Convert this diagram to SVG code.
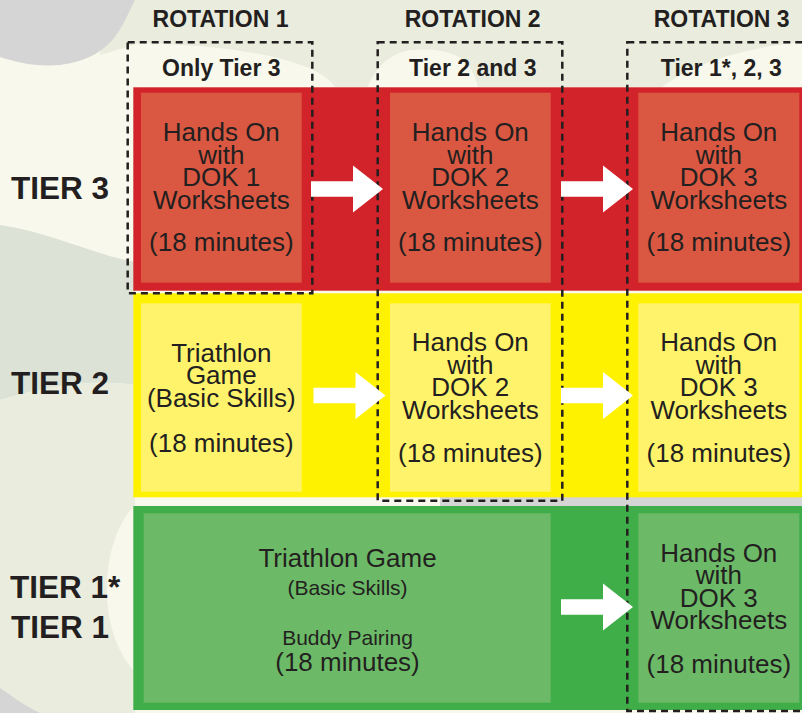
<svg xmlns="http://www.w3.org/2000/svg" xmlns:xlink="http://www.w3.org/1999/xlink" width="802" height="713" viewBox="0 0 802 713">
<defs>
<style>
.t{font-family:"Liberation Sans",Arial,sans-serif;fill:#231f20;text-anchor:middle}
.b{font-weight:bold}
.hd{font-size:23px;font-weight:bold}
.tier{font-family:"Liberation Sans",Arial,sans-serif;fill:#231f20;font-size:31.5px;font-weight:bold}
.bx{font-size:26px}
.sm{font-size:21px}
.dash{fill:none;stroke:#231f20;stroke-width:2.5;stroke-dasharray:7 5}
.arr{fill:#ffffff}
</style>
<path id="arrow" d="M0,-7.8 H42 V-23.5 L72,0 L42,23.5 V7.8 H0 Z"/>
</defs>

<!-- background -->
<g id="background">
<rect x="0" y="0" width="802" height="713" fill="#f9f8ec"/>
<path d="M110,0 H802 V42 C745,48 695,62 662,87 H478 C472,62 458,46 410,50 C388,54 374,70 368,87 H335 C318,62 250,46 140,43 L100,55 Z" fill="#eaecde"/>
<path d="M0,225 C50,232 95,255 135,262 V385 C100,380 60,382 0,400 Z" fill="#dce3d6"/>
<path d="M0,400 C60,382 100,380 135,385 V505 C100,540 95,630 135,672 V713 H0 Z" fill="#eaecde"/>
<path d="M0,0 H135 C120,30 112,58 60,65 C35,67 15,62 0,57 Z" fill="#d5d5d5"/>
<path d="M0,688 C15,698 25,706 40,713 H0 Z" fill="#d5d5d5"/>
<rect x="440" y="497" width="362" height="9" fill="#d5d5d5"/>
</g>

<!-- tier labels -->
<g id="labels">
<text class="t hd" x="220.5" y="27">ROTATION 1</text>
<text class="t hd" x="472.7" y="27">ROTATION 2</text>
<text class="t hd" x="721.7" y="27">ROTATION 3</text>
<text class="t hd" x="221.3" y="76">Only Tier 3</text>
<text class="t hd" x="472.8" y="76">Tier 2 and 3</text>
<text class="t hd" x="721.3" y="76">Tier 1*, 2, 3</text>
<text class="tier" x="11" y="199">TIER 3</text>
<text class="tier" x="11" y="394">TIER 2</text>
<text class="tier" x="10" y="597.7">TIER 1*</text>
<text class="tier" x="11" y="637.7">TIER 1</text>
</g>

<!-- bands -->
<g id="band-tier3"><rect x="133.3" y="87.3" width="668.7" height="203.4" fill="#d2232a"/></g>
<g id="band-tier2"><rect x="133.3" y="293.3" width="668.7" height="204" fill="#fff200"/></g>
<g id="band-tier1"><rect x="133.3" y="506" width="668.7" height="204" fill="#3fae49"/></g>

<!-- tier 3 row -->
<g id="t3-r1">
<rect x="141" y="92.7" width="160.7" height="190" fill="#da5841"/>
<text class="t bx" x="221.3"><tspan x="221.3" y="141">Hands On</tspan><tspan x="221.3" y="163.5">with</tspan><tspan x="221.3" y="186">DOK 1</tspan><tspan x="221.3" y="208.5">Worksheets</tspan><tspan x="221.3" y="251">(18 minutes)</tspan></text>
</g>
<g id="t3-r2">
<rect x="390" y="92.7" width="160.7" height="190" fill="#da5841"/>
<text class="t bx" x="470.3"><tspan x="470.3" y="141">Hands On</tspan><tspan x="470.3" y="163.5">with</tspan><tspan x="470.3" y="186">DOK 2</tspan><tspan x="470.3" y="208.5">Worksheets</tspan><tspan x="470.3" y="251">(18 minutes)</tspan></text>
</g>
<g id="t3-r3">
<rect x="638.3" y="92.7" width="161" height="190" fill="#da5841"/>
<text class="t bx" x="718.8"><tspan x="718.8" y="141">Hands On</tspan><tspan x="718.8" y="163.5">with</tspan><tspan x="718.8" y="186">DOK 3</tspan><tspan x="718.8" y="208.5">Worksheets</tspan><tspan x="718.8" y="251">(18 minutes)</tspan></text>
</g>

<!-- tier 2 row -->
<g id="t2-r1">
<rect x="141" y="303.3" width="160.7" height="188.4" fill="#fff36b"/>
<text class="t bx" x="221.3"><tspan x="221.3" y="361.5">Triathlon</tspan><tspan x="221.3" y="384">Game</tspan><tspan x="221.3" y="406.5">(Basic Skills)</tspan><tspan x="221.3" y="451.5">(18 minutes)</tspan></text>
</g>
<g id="t2-r2">
<rect x="390" y="303.3" width="160.7" height="188.4" fill="#fff36b"/>
<text class="t bx" x="470.3"><tspan x="470.3" y="351">Hands On</tspan><tspan x="470.3" y="373.5">with</tspan><tspan x="470.3" y="396">DOK 2</tspan><tspan x="470.3" y="418.5">Worksheets</tspan><tspan x="470.3" y="462">(18 minutes)</tspan></text>
</g>
<g id="t2-r3">
<rect x="638.3" y="303.3" width="161" height="188.4" fill="#fff36b"/>
<text class="t bx" x="718.8"><tspan x="718.8" y="351">Hands On</tspan><tspan x="718.8" y="373.5">with</tspan><tspan x="718.8" y="396">DOK 3</tspan><tspan x="718.8" y="418.5">Worksheets</tspan><tspan x="718.8" y="462">(18 minutes)</tspan></text>
</g>

<!-- tier 1 row -->
<g id="t1-r12">
<rect x="143.7" y="513.3" width="407" height="189.4" fill="#6cba67"/>
<text class="t bx" x="347.5" y="566.7">Triathlon Game</text>
<text class="t sm" x="347.5" y="594.5">(Basic Skills)</text>
<text class="t sm" x="347.5" y="645">Buddy Pairing</text>
<text class="t bx" x="347.5" y="670.5">(18 minutes)</text>
</g>
<g id="t1-r3">
<rect x="638.3" y="513.3" width="161" height="189.4" fill="#6cba67"/>
<text class="t bx" x="718.8"><tspan x="718.8" y="561.5">Hands On</tspan><tspan x="718.8" y="584">with</tspan><tspan x="718.8" y="606.5">DOK 3</tspan><tspan x="718.8" y="629">Worksheets</tspan><tspan x="718.8" y="673">(18 minutes)</tspan></text>
</g>

<!-- rotation dashed frames -->
<g id="frames">
<rect class="dash" x="127.7" y="42.3" width="184.6" height="251"/>
<rect class="dash" x="377.7" y="42.3" width="184.6" height="458.4"/>
<rect class="dash" x="627.3" y="42.3" width="190" height="668.7"/>
</g>

<!-- connectors -->
<g id="connectors">
<use xlink:href="#arrow" class="arr" transform="translate(311,189)"/>
<use xlink:href="#arrow" class="arr" transform="translate(561,189)"/>
<use xlink:href="#arrow" class="arr" transform="translate(313.5,395.5)"/>
<use xlink:href="#arrow" class="arr" transform="translate(561,395.5)"/>
<use xlink:href="#arrow" class="arr" transform="translate(561,607)"/>
</g>
</svg>
